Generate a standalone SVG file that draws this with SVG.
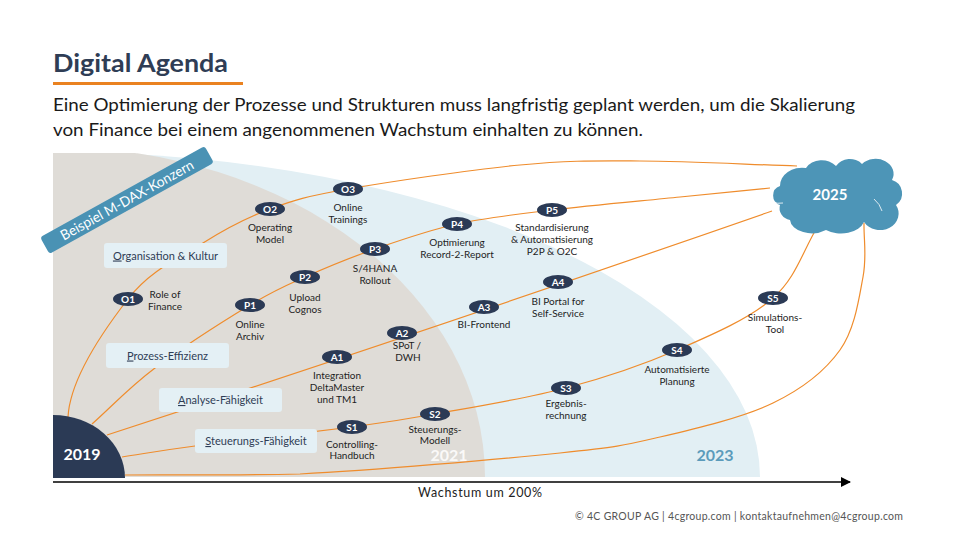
<svg xmlns="http://www.w3.org/2000/svg" width="960" height="540" viewBox="0 0 960 540">
<style>
text{font-family:Lato,"Open Sans","Liberation Sans",sans-serif}
.conn{fill:none;stroke:#ef8c2c;stroke-width:1.2}
.node{fill:#2b3a55}
.nid{fill:#fff;font-size:10px;font-weight:bold;text-anchor:middle}
.lbl{fill:#1e1e1e;font-size:10px;text-anchor:middle}
.cat{fill:#e4f0f5}
.catt{fill:#2f3d55;font-size:11px;text-anchor:middle}
</style>
<defs>
<clipPath id="area"><rect x="53" y="153" width="720" height="324"/></clipPath>
<marker id="arr" markerWidth="10" markerHeight="10" refX="9" refY="5" orient="auto" markerUnits="userSpaceOnUse"><path d="M0,0 L10,5 L0,10 Z" fill="#000"/></marker>
</defs>
<rect width="960" height="540" fill="#fff"/>
<!-- title -->
<text x="53" y="72" font-size="25" font-weight="bold" fill="#2f3d55" textLength="175" lengthAdjust="spacingAndGlyphs">Digital Agenda</text>
<rect x="53" y="82" width="190" height="3" fill="#ea8220"/>
<text x="53" y="111" font-size="18" fill="#1a1a1a" textLength="802" lengthAdjust="spacingAndGlyphs">Eine Optimierung der Prozesse und Strukturen muss langfristig geplant werden, um die Skalierung</text>
<text x="53" y="136" font-size="18" fill="#1a1a1a" textLength="590" lengthAdjust="spacingAndGlyphs">von Finance bei einem angenommenen Wachstum einhalten zu können.</text>
<!-- background areas -->
<g clip-path="url(#area)">
<ellipse cx="53" cy="477" rx="707" ry="325" fill="#e2eff4"/>
<ellipse cx="53" cy="477" rx="432" ry="330" fill="#dfdcd7"/>
</g>
<text x="449" y="461" font-size="16" font-weight="bold" fill="#fff" fill-opacity="0.85" text-anchor="middle">2021</text>
<text x="715" y="461" font-size="16" font-weight="bold" fill="#5b9bbb" text-anchor="middle">2023</text>
<!-- axis -->
<line x1="53" y1="482" x2="850" y2="482" stroke="#000" stroke-width="1.5" marker-end="url(#arr)"/>
<text x="480" y="497" font-size="12.5" fill="#222" text-anchor="middle" textLength="124" lengthAdjust="spacing">Wachstum um 200%</text>
<!-- connectors -->
<g id="connectors">
<path class="conn" d="M68,417 C70,380 100,335 128,299 C150.5,270 179.3,258 203,243 C226.7,228 245.8,218 270,209 C294.2,200 306.3,196.3 348,189 C389.7,181.7 471.3,169.7 520,165 C568.7,160.3 593.8,160.8 640,161 C686.2,161.2 744.7,164.3 797,166"/>
<path class="conn" d="M92,424 C113,405.3 128.7,387.8 155,368 C181.3,348.2 225,320.2 250,305 C275,289.8 284.2,286.3 305,277 C325.8,267.7 349.7,257.8 375,249 C400.3,240.2 427.5,230.5 457,224 C486.5,217.5 514.8,214.5 552,210 C589.2,205.5 643.7,200.7 680,197 C716.3,193.3 740,191 770,188"/>
<path class="conn" d="M107,435 Q430,330 772,211"/>
<path class="conn" d="M122,457 C146.3,453.3 156.7,451 195,446 C233.3,441 312,432.3 352,427 C392,421.7 399.3,420.5 435,414 C470.7,407.5 525.7,398.7 566,388 C606.3,377.3 642.5,365 677,350 C711.5,335 749.5,318.7 773,298 C796.5,277.3 803,250 818,226"/>
<path class="conn" d="M125,475 C183.3,474.7 230,475.5 300,474 C372.5,470.3 500,459.2 560,453 C620,446.8 624.5,445.3 660,437 C695.5,428.7 743,417.5 773,403 C803,388.5 825,371 840,350 C855,329 859,298.2 863,277 C867,255.8 863.7,241 864,223"/>
</g>
<!-- 2019 -->
<g id="y2019">
<path d="M53,415 A72,63 0 0 1 125,478 L53,478 Z" fill="#2b3a55"/>
<text x="82" y="460" font-size="16" font-weight="bold" fill="#fff" text-anchor="middle">2019</text>
</g>
<!-- banner -->
<g id="banner" transform="translate(127,200) rotate(-29)">
<rect x="-94" y="-9.5" width="188" height="19" rx="3" fill="#4a92b4"/>
<text x="0" y="5" font-size="14" fill="#fff" text-anchor="middle" textLength="150" lengthAdjust="spacingAndGlyphs">Beispiel M-DAX-Konzern</text>
</g>
<!-- category boxes -->
<g id="cat-org"><rect class="cat" x="104" y="243" width="123" height="25" rx="3"/><text class="catt" x="165.5" y="259.5"><tspan text-decoration="underline">O</tspan>rganisation &amp; Kultur</text></g>
<g id="cat-proz"><rect class="cat" x="106" y="343" width="123" height="25" rx="3"/><text class="catt" x="167.5" y="359.5"><tspan text-decoration="underline">P</tspan>rozess-Effizienz</text></g>
<g id="cat-ana"><rect class="cat" x="159" y="388" width="123" height="24" rx="3"/><text class="catt" x="220.5" y="404"><tspan text-decoration="underline">A</tspan>nalyse-Fähigkeit</text></g>
<g id="cat-steu"><rect class="cat" x="195" y="429" width="122" height="24" rx="3"/><text class="catt" x="256" y="445"><tspan text-decoration="underline">S</tspan>teuerungs-Fähigkeit</text></g>
<!-- nodes -->
<g id="O1"><ellipse class="node" cx="128" cy="299" rx="15" ry="7"/><text class="nid" x="128" y="302.5">O1</text><text class="lbl" x="165" y="297.5">Role of</text><text class="lbl" x="165" y="309.5">Finance</text></g>
<g id="O2"><ellipse class="node" cx="270" cy="209" rx="15" ry="7"/><text class="nid" x="270" y="212.5">O2</text><text class="lbl" x="270" y="231">Operating</text><text class="lbl" x="270" y="243">Model</text></g>
<g id="O3"><ellipse class="node" cx="348" cy="189" rx="15" ry="7"/><text class="nid" x="348" y="192.5">O3</text><text class="lbl" x="348" y="211">Online</text><text class="lbl" x="348" y="223">Trainings</text></g>
<g id="P1"><ellipse class="node" cx="250" cy="305" rx="15" ry="7"/><text class="nid" x="250" y="308.5">P1</text><text class="lbl" x="250" y="328">Online</text><text class="lbl" x="250" y="340">Archiv</text></g>
<g id="P2"><ellipse class="node" cx="305" cy="277" rx="15" ry="7"/><text class="nid" x="305" y="280.5">P2</text><text class="lbl" x="305" y="301">Upload</text><text class="lbl" x="305" y="313">Cognos</text></g>
<g id="P3"><ellipse class="node" cx="375" cy="249" rx="15" ry="7"/><text class="nid" x="375" y="252.5">P3</text><text class="lbl" x="375" y="272">S/4HANA</text><text class="lbl" x="375" y="284">Rollout</text></g>
<g id="P4"><ellipse class="node" cx="457" cy="224" rx="15" ry="7"/><text class="nid" x="457" y="227.5">P4</text><text class="lbl" x="457" y="246">Optimierung</text><text class="lbl" x="457" y="258">Record-2-Report</text></g>
<g id="P5"><ellipse class="node" cx="552" cy="210" rx="15" ry="7"/><text class="nid" x="552" y="213.5">P5</text><text class="lbl" x="552" y="231">Standardisierung</text><text class="lbl" x="552" y="243">&amp; Automatisierung</text><text class="lbl" x="552" y="255">P2P &amp; O2C</text></g>
<g id="A1"><ellipse class="node" cx="337" cy="357" rx="15" ry="7"/><text class="nid" x="337" y="360.5">A1</text><text class="lbl" x="337" y="379">Integration</text><text class="lbl" x="337" y="391">DeltaMaster</text><text class="lbl" x="337" y="403">und TM1</text></g>
<g id="A2"><ellipse class="node" cx="402" cy="333" rx="15" ry="7"/><text class="nid" x="402" y="336.5">A2</text><text class="lbl" x="407" y="349">SPoT /</text><text class="lbl" x="408" y="361">DWH</text></g>
<g id="A3"><ellipse class="node" cx="484" cy="307" rx="15" ry="7"/><text class="nid" x="484" y="310.5">A3</text><text class="lbl" x="484" y="328">BI-Frontend</text></g>
<g id="A4"><ellipse class="node" cx="558" cy="282" rx="15" ry="7"/><text class="nid" x="558" y="285.5">A4</text><text class="lbl" x="558" y="305">BI Portal for</text><text class="lbl" x="558" y="317">Self-Service</text></g>
<g id="S1"><ellipse class="node" cx="352" cy="427" rx="15" ry="7"/><text class="nid" x="352" y="430.5">S1</text><text class="lbl" x="352" y="448">Controlling-</text><text class="lbl" x="352" y="459">Handbuch</text></g>
<g id="S2"><ellipse class="node" cx="435" cy="414" rx="15" ry="7"/><text class="nid" x="435" y="417.5">S2</text><text class="lbl" x="435" y="433">Steuerungs-</text><text class="lbl" x="435" y="444">Modell</text></g>
<g id="S3"><ellipse class="node" cx="566" cy="388" rx="15" ry="7"/><text class="nid" x="566" y="391.5">S3</text><text class="lbl" x="566" y="407">Ergebnis-</text><text class="lbl" x="566" y="419">rechnung</text></g>
<g id="S4"><ellipse class="node" cx="677" cy="350" rx="15" ry="7"/><text class="nid" x="677" y="353.5">S4</text><text class="lbl" x="677" y="373">Automatisierte</text><text class="lbl" x="677" y="385">Planung</text></g>
<g id="S5"><ellipse class="node" cx="773" cy="298" rx="15" ry="7"/><text class="nid" x="773" y="301.5">S5</text><text class="lbl" x="775" y="321">Simulations-</text><text class="lbl" x="775" y="333">Tool</text></g>
<!-- cloud -->
<g id="cloud2025">
<path d="M780,186 A22,18 0 0 1 806,168 A18,15 0 0 1 836,166 A16,14 0 0 1 862,164 A18,15 0 0 1 892,180 A14,14 0 0 1 896,205 A18,16 0 0 1 864,222 A24,16 0 0 1 826,230 A22,14 0 0 1 790,220 A13,12 0 0 1 780,205 A10,10 0 0 1 780,186 Z" fill="#4d95b7"/>
<path d="M772,202 Q778,204 783,203 M874,199 Q880,204 882,211" fill="none" stroke="#fff" stroke-width="1" stroke-opacity="0.8"/>
<text x="830" y="200" font-size="15" font-weight="bold" fill="#fff" text-anchor="middle">2025</text>
</g>
<!-- footer -->
<text x="575" y="520" font-size="10.5" fill="#555" textLength="328" lengthAdjust="spacing">© 4C GROUP AG | 4cgroup.com | kontaktaufnehmen@4cgroup.com</text>
</svg>
